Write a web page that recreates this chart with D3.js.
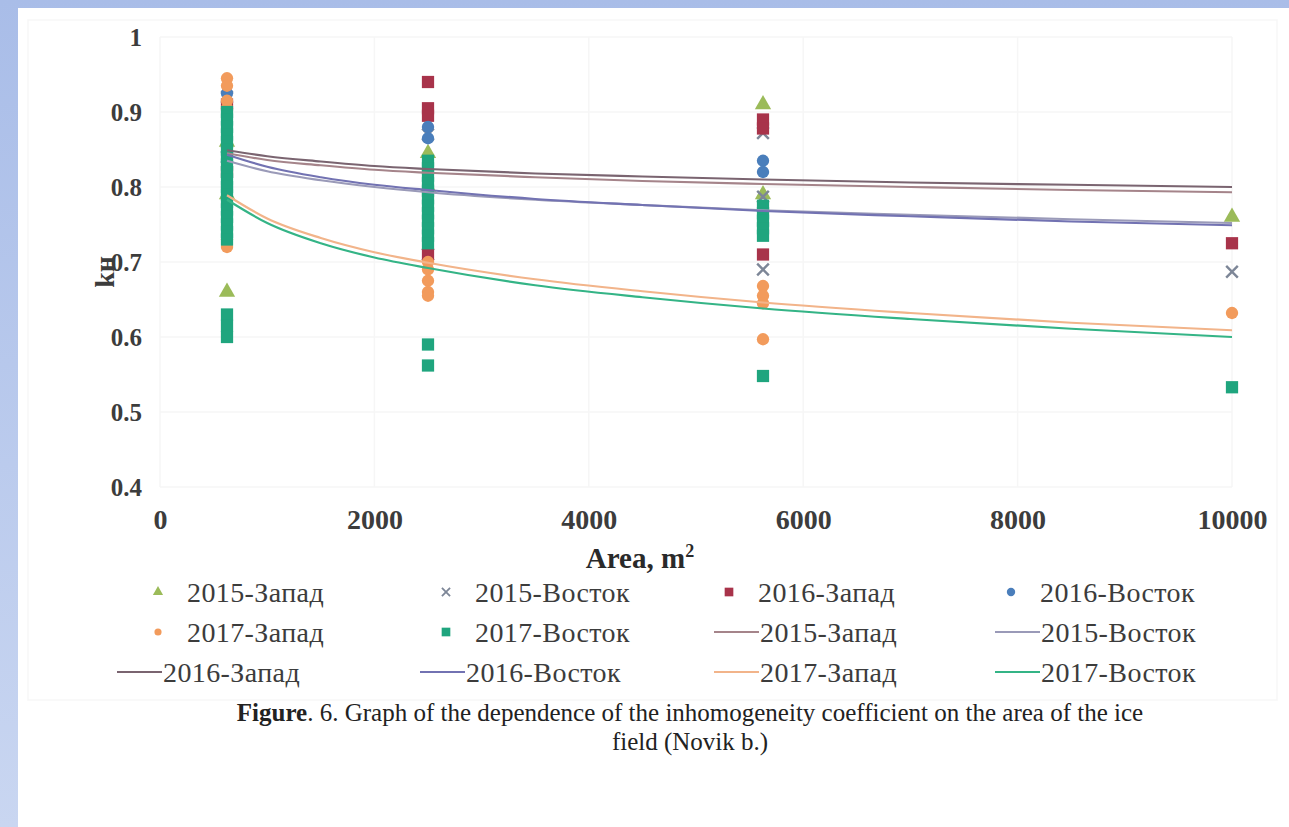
<!DOCTYPE html>
<html>
<head>
<meta charset="utf-8">
<script src="https://cdn.jsdelivr.net/npm/d3@7"></script>
<style>
  html, body { margin: 0; padding: 0; background: #ffffff; }
  svg { display: block; }
</style>
</head>
<body>
<svg id="chart" width="1289" height="827"></svg>
<script>
// ---- data -------------------------------------------------------------
const seriesNames = ["2015-Запад", "2015-Восток", "2016-Запад", "2016-Восток", "2017-Запад", "2017-Восток"];

// measured points: [area m², kн]
const west2015 = [[625, 0.66], [625, 0.79], [625, 0.86], [2500, 0.845], [2500, 0.80], [5625, 0.91], [5625, 0.79], [10000, 0.76]];
const east2015 = [[625, 0.92], [625, 0.84], [2500, 0.87], [2500, 0.71], [5625, 0.872], [5625, 0.787], [5625, 0.69], [10000, 0.687]];
const west2016 = [[625, 0.91], [625, 0.82], [2500, 0.94], [2500, 0.905], [2500, 0.895], [2500, 0.71], [5625, 0.89], [5625, 0.878], [5625, 0.71], [10000, 0.725]];
const east2016 = [[625, 0.925], [625, 0.80], [2500, 0.88], [2500, 0.865], [5625, 0.835], [5625, 0.82]];
const west2017 = [[625, 0.945], [625, 0.935], [625, 0.915], [625, 0.905], [625, 0.73], [625, 0.72],
                  [2500, 0.70], [2500, 0.69], [2500, 0.675], [2500, 0.66], [2500, 0.655],
                  [5625, 0.668], [5625, 0.655], [5625, 0.645], [5625, 0.597], [10000, 0.632]];
const east2017 = [[625, 0.90], [625, 0.89], [625, 0.88], [625, 0.87], [625, 0.86], [625, 0.85], [625, 0.84], [625, 0.83],
                  [625, 0.82], [625, 0.81], [625, 0.80], [625, 0.79], [625, 0.78], [625, 0.77], [625, 0.76], [625, 0.75],
                  [625, 0.74], [625, 0.73], [625, 0.63], [625, 0.615], [625, 0.60],
                  [2500, 0.835], [2500, 0.825], [2500, 0.815], [2500, 0.805], [2500, 0.795], [2500, 0.785], [2500, 0.775],
                  [2500, 0.765], [2500, 0.755], [2500, 0.745], [2500, 0.735], [2500, 0.725], [2500, 0.59], [2500, 0.562],
                  [5625, 0.775], [5625, 0.765], [5625, 0.755], [5625, 0.745], [5625, 0.735], [5625, 0.548],
                  [10000, 0.533]];

// logarithmic trend lines
const trendAreas = [625, 1000, 1500, 2000, 2500, 3500, 4500, 5625, 7000, 8500, 10000];
const trendWest2015 = [0.845, 0.836, 0.829, 0.823, 0.819, 0.813, 0.808, 0.804, 0.800, 0.796, 0.793];
const trendEast2015 = [0.835, 0.821, 0.809, 0.800, 0.793, 0.783, 0.776, 0.769, 0.763, 0.757, 0.752];
const trendWest2016 = [0.849, 0.841, 0.834, 0.828, 0.824, 0.818, 0.814, 0.810, 0.806, 0.803, 0.800];
const trendEast2016 = [0.843, 0.827, 0.813, 0.803, 0.796, 0.784, 0.776, 0.768, 0.761, 0.754, 0.749];
const trendWest2017 = [0.789, 0.758, 0.732, 0.713, 0.699, 0.677, 0.661, 0.646, 0.632, 0.619, 0.609];
const trendEast2017 = [0.783, 0.752, 0.725, 0.706, 0.692, 0.669, 0.653, 0.638, 0.624, 0.611, 0.600];

const xTicks = [0, 2000, 4000, 6000, 8000, 10000];
const yTicks = [0.4, 0.5, 0.6, 0.7, 0.8, 0.9, 1];

// ---- styling ----------------------------------------------------------
const pointColors = ["#9bbb59", "#7d8697", "#a8334a", "#4a7ebb", "#f29b5c", "#1fa57e"];
const lineColors  = ["#a5848a", "#9a9ab8", "#7a6470", "#7272b2", "#f2b48a", "#34b486"];
const symbolTypes = [d3.symbolTriangle, d3.symbolTimes || d3.symbolX, d3.symbolSquare, d3.symbolCircle, d3.symbolCircle, d3.symbolSquare];
const symbolSizes = [115, 90, 150, 120, 120, 150];

const pointSets = [west2015, east2015, west2016, east2016, west2017, east2017];
const trendSets = [trendWest2015, trendEast2015, trendWest2016, trendEast2016, trendWest2017, trendEast2017];

const svg = d3.select("#chart");
const W = 1289, H = 827;

// page frame
const defs = svg.append("defs");
const grad = defs.append("linearGradient").attr("id", "frameGrad").attr("x1", 0).attr("y1", 0).attr("x2", 0).attr("y2", 1);
grad.append("stop").attr("offset", "0%").attr("stop-color", "#a9bde8");
grad.append("stop").attr("offset", "100%").attr("stop-color", "#c9d6f1");
svg.append("rect").attr("width", W).attr("height", H).attr("fill", "url(#frameGrad)");
svg.append("rect").attr("x", 18).attr("y", 8).attr("width", W - 18).attr("height", H - 8).attr("fill", "#ffffff");
svg.append("rect").attr("x", 28).attr("y", 20).attr("width", W - 40).attr("height", 680)
  .attr("fill", "none").attr("stroke", "#f7f7f7").attr("stroke-width", 1.5);

// ---- scales -----------------------------------------------------------
const x = d3.scaleLinear().domain([0, 10000]).range([160, 1232]);
const y = d3.scaleLinear().domain([0.4, 1]).range([487, 37]);

const serif = "'Liberation Serif', 'Times New Roman', serif";

// grid
const grid = svg.append("g");
grid.selectAll("line.h").data(yTicks).join("line")
  .attr("x1", x(0)).attr("x2", x(10000)).attr("y1", d => y(d)).attr("y2", d => y(d))
  .attr("stroke", "#f6f6f6").attr("stroke-width", 1.5);
grid.selectAll("line.v").data(xTicks).join("line")
  .attr("y1", y(0.4)).attr("y2", y(1)).attr("x1", d => x(d)).attr("x2", d => x(d))
  .attr("stroke", "#f6f6f6").attr("stroke-width", 1.5);

// axes
const xAxis = svg.append("g").attr("transform", `translate(0,${y(0.4)})`)
  .call(d3.axisBottom(x).tickValues(xTicks).tickFormat(d3.format("d")).tickSize(0).tickPadding(22));
const yAxis = svg.append("g").attr("transform", `translate(${x(0)},0)`)
  .call(d3.axisLeft(y).tickValues(yTicks).tickFormat(d => d === 1 ? "1" : d.toFixed(1)).tickSize(0).tickPadding(18));
[xAxis, yAxis].forEach(a => {
  a.select(".domain").remove();
  a.selectAll("text").attr("font-family", serif).attr("font-weight", "bold").attr("fill", "#3c3c3c");
});
xAxis.selectAll("text").attr("font-size", 28);
yAxis.selectAll("text").attr("font-size", 25);

// axis titles
const xt = svg.append("text").attr("x", 640).attr("y", 568).attr("text-anchor", "middle")
  .attr("font-family", serif).attr("font-size", 29).attr("font-weight", "bold").attr("fill", "#2a2a2a");
xt.append("tspan").text("Area, m");
xt.append("tspan").attr("dy", -11).attr("font-size", 18).text("2");

svg.append("text").attr("transform", `translate(114,272) rotate(-90)`).attr("text-anchor", "middle")
  .attr("font-family", serif).attr("font-size", 28).attr("font-weight", "bold").attr("fill", "#3c3c3c")
  .text("kн");

// ---- points -----------------------------------------------------------
const plot = svg.append("g");
pointSets.forEach((pts, i) => {
  const sym = d3.symbol().type(symbolTypes[i]).size(symbolSizes[i]);
  const stroked = i === 1;
  plot.append("g").selectAll("path").data(pts).join("path")
    .attr("transform", d => `translate(${x(d[0])},${y(d[1])})`)
    .attr("d", sym)
    .attr("fill", stroked ? "none" : pointColors[i])
    .attr("stroke", stroked ? pointColors[i] : "none")
    .attr("stroke-width", stroked ? 2.4 : 0);
});

// ---- trend lines ------------------------------------------------------
const line = d3.line().x(d => x(d[0])).y(d => y(d[1])).curve(d3.curveMonotoneX);
trendSets.forEach((vals, i) => {
  plot.append("path")
    .datum(trendAreas.map((a, k) => [a, vals[k]]))
    .attr("d", line)
    .attr("fill", "none")
    .attr("stroke", lineColors[i])
    .attr("stroke-width", 2.2);
});

// ---- legend -----------------------------------------------------------
const pointTextX = [187, 475, 758, 1040];
const lineTextX = [163, 466, 760, 1041];
const rowY = [593, 633, 673];
const legendItems = [];
seriesNames.forEach((n, i) => legendItems.push({ name: n, kind: "point", idx: i }));
seriesNames.forEach((n, i) => legendItems.push({ name: n, kind: "line", idx: i }));

const legend = svg.append("g");
legendItems.forEach((it, k) => {
  const col = k % 4, cy = rowY[Math.floor(k / 4)];
  const g = legend.append("g");
  let textX;
  if (it.kind === "point") {
    textX = pointTextX[col];
    const small = { 0: 45, 1: 45, 2: 75, 3: 55, 4: 40, 5: 75 }[it.idx];
    const stroked = it.idx === 1;
    g.append("path")
      .attr("transform", `translate(${textX - 29},${cy - 1})`)
      .attr("d", d3.symbol().type(symbolTypes[it.idx]).size(small))
      .attr("fill", stroked ? "none" : pointColors[it.idx])
      .attr("stroke", stroked ? pointColors[it.idx] : "none")
      .attr("stroke-width", stroked ? 1.8 : 0);
  } else {
    textX = lineTextX[col];
    g.append("line").attr("x1", textX - 46).attr("x2", textX - 1).attr("y1", cy - 1).attr("y2", cy - 1)
      .attr("stroke", lineColors[it.idx]).attr("stroke-width", 2.2);
  }
  g.append("text").attr("x", textX).attr("y", cy + 9)
    .attr("font-family", serif).attr("font-size", 28).attr("letter-spacing", 0.4).attr("fill", "#3c3c3c")
    .text(it.name);
});

// ---- caption ----------------------------------------------------------
const cap = svg.append("text").attr("x", 690).attr("y", 721).attr("text-anchor", "middle")
  .attr("font-family", serif).attr("font-size", 25).attr("fill", "#222");
cap.append("tspan").attr("font-weight", "bold").text("Figure");
cap.append("tspan").text(". 6. Graph of the dependence of the inhomogeneity coefficient on the area of the ice");
svg.append("text").attr("x", 690).attr("y", 750).attr("text-anchor", "middle")
  .attr("font-family", serif).attr("font-size", 25).attr("fill", "#222")
  .text("field (Novik b.)");
</script>
</body>
</html>
